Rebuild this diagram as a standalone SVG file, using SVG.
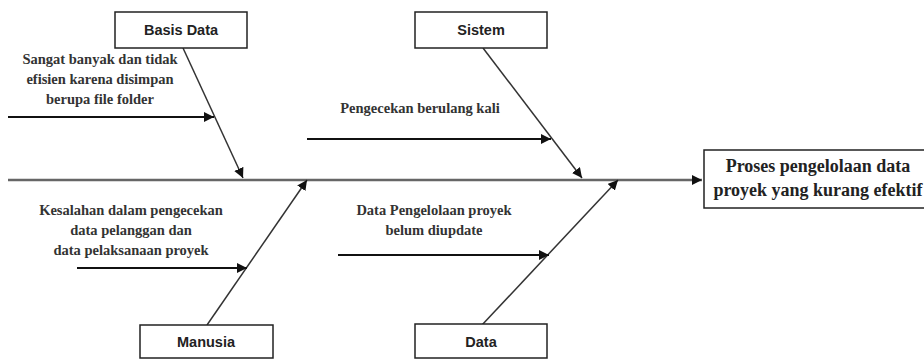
<svg xmlns="http://www.w3.org/2000/svg" width="924" height="360" viewBox="0 0 924 360">
<style>
.box{fill:#fff;stroke:#222;stroke-width:1.5}
.cat{font-family:"Liberation Sans",Arial,sans-serif;font-size:14.5px;font-weight:bold;fill:#222;text-anchor:middle}
.cause{font-family:"Liberation Serif","Times New Roman",serif;font-size:14.5px;font-weight:bold;fill:#333;text-anchor:middle}
.eff{font-family:"Liberation Serif","Times New Roman",serif;font-size:18px;font-weight:bold;fill:#222;text-anchor:middle}
.spine{stroke:#666;stroke-width:2.5;fill:none}
.diag{stroke:#333;stroke-width:1.5;fill:none}
.br{stroke:#111;stroke-width:1.8;fill:none}
</style>
<defs>
<marker id="ah2" viewBox="0 0 10 10" refX="10" refY="5" markerWidth="10" markerHeight="10" markerUnits="userSpaceOnUse" orient="auto"><path d="M0,0L10,5L0,10z" fill="#111"/></marker>
</defs>
<rect width="924" height="360" fill="#fff"/>
<g id="connectors">
<line class="spine" x1="8" y1="180" x2="702" y2="180" marker-end="url(#ah2)"/>
<line class="diag" x1="183" y1="48" x2="243" y2="178" marker-end="url(#ah2)"/>
<line class="diag" x1="483" y1="48" x2="582" y2="178" marker-end="url(#ah2)"/>
<line class="diag" x1="207" y1="325" x2="307" y2="180" marker-end="url(#ah2)"/>
<line class="diag" x1="482" y1="325" x2="618" y2="180" marker-end="url(#ah2)"/>
<line class="br" x1="8" y1="117" x2="214" y2="117" marker-end="url(#ah2)"/>
<line class="br" x1="307" y1="139" x2="551" y2="139" marker-end="url(#ah2)"/>
<line class="br" x1="77" y1="268" x2="247" y2="268" marker-end="url(#ah2)"/>
<line class="br" x1="338" y1="255" x2="549" y2="255" marker-end="url(#ah2)"/>
</g>
<g id="basis-data">
<rect class="box" x="115" y="12" width="132" height="36"/>
<text class="cat" x="181" y="35">Basis Data</text>
</g>
<g id="sistem">
<rect class="box" x="415" y="12" width="132" height="36"/>
<text class="cat" x="481" y="35">Sistem</text>
</g>
<g id="manusia">
<rect class="box" x="140" y="325" width="133" height="33"/>
<text class="cat" x="206" y="347">Manusia</text>
</g>
<g id="data">
<rect class="box" x="415" y="324" width="132" height="34"/>
<text class="cat" x="481" y="347">Data</text>
</g>
<g id="effect">
<rect class="box" x="704" y="150" width="240" height="58"/>
<text class="eff" x="818" y="172">Proses pengelolaan data</text>
<text class="eff" x="818" y="196">proyek yang kurang efektif</text>
</g>
<g id="cause-basis-data">
<text class="cause" x="100" y="64">Sangat banyak dan tidak</text>
<text class="cause" x="100" y="84">efisien karena disimpan</text>
<text class="cause" x="100" y="104">berupa file folder</text>
</g>
<g id="cause-sistem">
<text class="cause" x="420" y="113">Pengecekan berulang kali</text>
</g>
<g id="cause-manusia">
<text class="cause" x="131" y="215">Kesalahan dalam pengecekan</text>
<text class="cause" x="131" y="235">data pelanggan dan</text>
<text class="cause" x="131" y="255">data pelaksanaan proyek</text>
</g>
<g id="cause-data">
<text class="cause" x="434" y="215">Data Pengelolaan proyek</text>
<text class="cause" x="434" y="235">belum diupdate</text>
</g>
</svg>
